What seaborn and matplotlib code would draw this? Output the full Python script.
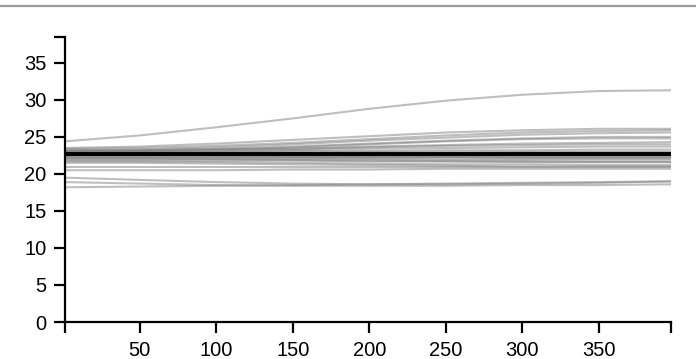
import numpy as np
import pandas as pd
import matplotlib
matplotlib.use("Agg")
import matplotlib.pyplot as plt
from matplotlib.lines import Line2D
import seaborn as sns

# ---- data ----
x_points = [1, 50, 100, 150, 200, 250, 300, 350, 397]

l01 = [24.4, 25.2, 26.3, 27.5, 28.8, 29.9, 30.7, 31.2, 31.3]
l02 = [23.5, 23.7, 24.1, 24.6, 25.1, 25.6, 25.9, 26.1, 26.1]
l03 = [23.4, 23.5, 23.8, 24.2, 24.7, 25.2, 25.6, 25.8, 25.9]
l04 = [23.2, 23.3, 23.6, 24.0, 24.5, 24.9, 25.3, 25.5, 25.6]
l05 = [23.1, 23.2, 23.4, 23.7, 24.1, 24.5, 24.8, 25.0, 25.0]
l06 = [23.0, 23.1, 23.3, 23.6, 24.0, 24.4, 24.7, 24.8, 24.8]
l07 = [22.9, 23.0, 23.2, 23.4, 23.7, 23.9, 24.1, 24.2, 24.3]
l08 = [23.2, 23.2, 23.3, 23.4, 23.6, 23.8, 23.9, 24.0, 24.0]
l09 = [22.8, 22.9, 23.0, 23.2, 23.4, 23.5, 23.6, 23.7, 23.7]
l10 = [23.0, 23.0, 23.0, 23.1, 23.1, 23.2, 23.2, 23.3, 23.3]
l11 = [22.9, 22.9, 22.9, 22.9, 23.0, 23.0, 23.0, 23.0, 23.0]
l12 = [22.8, 22.8, 22.8, 22.8, 22.8, 22.8, 22.9, 22.9, 22.9]
l13 = [22.7, 22.7, 22.7, 22.7, 22.7, 22.7, 22.7, 22.7, 22.7]
l14 = [22.6, 22.6, 22.6, 22.6, 22.6, 22.6, 22.6, 22.6, 22.6]
l15 = [22.5, 22.5, 22.5, 22.5, 22.4, 22.4, 22.4, 22.4, 22.4]
l16 = [22.4, 22.4, 22.4, 22.3, 22.3, 22.3, 22.2, 22.2, 22.2]
l17 = [22.3, 22.3, 22.3, 22.3, 22.3, 22.3, 22.3, 22.3, 22.3]
l18 = [22.2, 22.2, 22.2, 22.2, 22.1, 22.1, 22.1, 22.1, 22.1]
l19 = [22.1, 22.1, 22.0, 22.0, 22.0, 21.9, 21.9, 21.9, 21.9]
l20 = [22.0, 22.0, 22.0, 21.9, 21.8, 21.7, 21.7, 21.6, 21.6]
l21 = [21.8, 21.8, 21.8, 21.8, 21.7, 21.7, 21.6, 21.6, 21.6]
l22 = [21.7, 21.7, 21.6, 21.5, 21.4, 21.3, 21.3, 21.2, 21.2]
l23 = [21.5, 21.5, 21.4, 21.3, 21.2, 21.1, 21.0, 21.0, 21.0]
l24 = [20.9, 20.9, 20.9, 20.9, 20.9, 20.9, 20.9, 20.9, 20.9]
l25 = [20.5, 20.5, 20.5, 20.6, 20.6, 20.7, 20.7, 20.7, 20.7]
l26 = [19.5, 19.2, 18.9, 18.7, 18.6, 18.6, 18.7, 18.8, 19.0]
l27 = [18.9, 18.7, 18.5, 18.4, 18.4, 18.4, 18.5, 18.5, 18.6]
l28 = [18.2, 18.3, 18.4, 18.5, 18.6, 18.7, 18.8, 18.9, 19.0]

mean_line = [22.7, 22.7, 22.7, 22.7, 22.7, 22.7, 22.7, 22.7, 22.7]

x_tick_values = [1, 50, 100, 150, 200, 250, 300, 350, 397]
x_tick_labels = ["", "50", "100", "150", "200", "250", "300", "350", ""]
y_tick_values = [0, 5, 10, 15, 20, 25, 30, 35, 38.5]
y_tick_labels = ["0", "5", "10", "15", "20", "25", "30", "35", ""]

series = [l01, l02, l03, l04, l05, l06, l07, l08, l09, l10, l11, l12, l13, l14,
          l15, l16, l17, l18, l19, l20, l21, l22, l23, l24, l25, l26, l27, l28]

rows = []
for i, vals in enumerate(series):
    for xv, yv in zip(x_points, vals):
        rows.append({"x": xv, "y": yv, "series": f"s{i:02d}"})
df = pd.DataFrame(rows)
df_mean = pd.DataFrame({"x": x_points, "y": mean_line})

# ---- figure ----
sns.set_theme(style="ticks")
plt.rcParams["font.family"] = ["Liberation Sans", "DejaVu Sans"]

fig = plt.figure(figsize=(6.96, 3.59), dpi=100)
ax = fig.add_axes([64.5 / 696, 37 / 359, (671 - 64.5) / 696, (322 - 37) / 359])

sns.lineplot(data=df, x="x", y="y", units="series", estimator=None,
             color="#7f7f7f", alpha=0.5, linewidth=1.5, ax=ax, legend=False)
sns.lineplot(data=df_mean, x="x", y="y", color="black", linewidth=2.8,
             ax=ax, legend=False)

ax.set_xlim(1, 397)
ax.set_ylim(0, 38.5)
ax.set_xticks(x_tick_values)
ax.set_xticklabels(x_tick_labels)
ax.set_yticks(y_tick_values)
ax.set_yticklabels(y_tick_labels)
ax.set_xlabel("")
ax.set_ylabel("")

for side in ["top", "right"]:
    ax.spines[side].set_visible(False)
for side in ["left", "bottom"]:
    ax.spines[side].set_color("black")
    ax.spines[side].set_linewidth(1.6)

ax.tick_params(axis="both", which="major", direction="out", length=8,
               width=1.6, color="black", labelsize=14.5, labelcolor="black",
               bottom=True, left=True, pad=5)
ax.tick_params(axis="x", pad=6)
ax.grid(False)

# page border line at top
fig.add_artist(Line2D([0, 1], [1 - 5.5 / 359, 1 - 5.5 / 359],
                      transform=fig.transFigure, color="#9a9a9a", linewidth=1.6))

fig.savefig("out.png", dpi=100)
